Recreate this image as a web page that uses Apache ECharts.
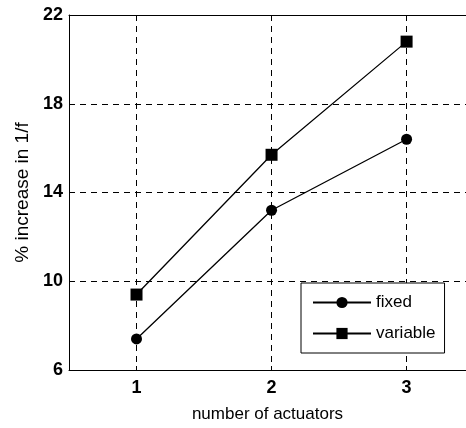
<!DOCTYPE html>
<html>
<head>
<meta charset="utf-8">
<script src="https://cdn.jsdelivr.net/npm/echarts@6/dist/echarts.min.js"></script>
<style>
html, body { margin: 0; padding: 0; background: #fff; }
#chart { width: 466px; height: 428px; }
</style>
</head>
<body>
<div id="chart"></div>
<script>
var actuators = [1, 2, 3];
var fixed_vals = [7.4, 13.2, 16.4];
var variable_vals = [9.4, 15.7, 20.8];
var y_ticks = [6, 10, 14, 18, 22];

function pairs(xs, ys) {
    var out = [];
    for (var i = 0; i < xs.length; i++) out.push([xs[i], ys[i]]);
    return out;
}

var font = 'Liberation Sans, Arial, sans-serif';
var dash = { color: '#000', type: [6, 5], width: 1 };

var myChart = echarts.init(document.getElementById('chart'));

// plot is cut off on the right in the original, so x runs past 3.5 off-page
var option = {
    animation: false,
    backgroundColor: '#fff',
    grid: { left: 69, top: 15, right: 0, bottom: 54 },
    legend: {
        orient: 'vertical',
        left: 301, top: 283,
        padding: [11, 9, 11, 11],
        itemGap: 14,
        itemWidth: 58, itemHeight: 14,
        borderColor: '#000', borderWidth: 1,
        backgroundColor: '#fff',
        textStyle: { fontFamily: font, fontSize: 17, color: '#000' },
        data: ['fixed', 'variable']
    },
    xAxis: [{
        type: 'value',
        min: 0.5, max: 3.44,
        name: 'number of actuators',
        nameLocation: 'middle',
        nameGap: 36,
        nameTextStyle: { fontFamily: font, fontSize: 17, color: '#000' },
        axisLine: { lineStyle: { color: '#000', width: 1 } },
        axisTick: { show: true, inside: true, length: 4, customValues: actuators, lineStyle: { color: '#000' } },
        axisLabel: { customValues: actuators, margin: 9, fontFamily: font, fontSize: 18, fontWeight: 'bold', color: '#000' },
        splitLine: { show: true, lineStyle: dash }
    }, {
        type: 'value',
        position: 'top',
        min: 0.5, max: 3.44,
        axisLine: { show: true, lineStyle: { color: '#000', width: 1 } },
        axisTick: { show: false },
        axisLabel: { show: false },
        splitLine: { show: false }
    }],
    yAxis: {
        type: 'value',
        min: 6, max: 22, interval: 4,
        name: '% increase in 1/f',
        nameLocation: 'middle',
        nameGap: 37,
        nameTextStyle: { fontFamily: font, fontSize: 19, color: '#000' },
        axisLine: { show: true, lineStyle: { color: '#000', width: 1 } },
        axisTick: { show: true, inside: true, length: 4, lineStyle: { color: '#000' } },
        axisLabel: { margin: 6, fontFamily: font, fontSize: 18, fontWeight: 'bold', color: '#000' },
        splitLine: { show: true, lineStyle: dash }
    },
    series: [
        {
            name: 'fixed',
            type: 'line',
            data: pairs(actuators, fixed_vals),
            symbol: 'circle',
            symbolSize: 11,
            lineStyle: { color: '#000', width: 1.3 },
            itemStyle: { color: '#000' }
        },
        {
            name: 'variable',
            type: 'line',
            data: pairs(actuators, variable_vals),
            symbol: 'rect',
            symbolSize: 12,
            lineStyle: { color: '#000', width: 1.3 },
            itemStyle: { color: '#000' }
        }
    ]
};

myChart.setOption(option);
</script>
</body>
</html>
